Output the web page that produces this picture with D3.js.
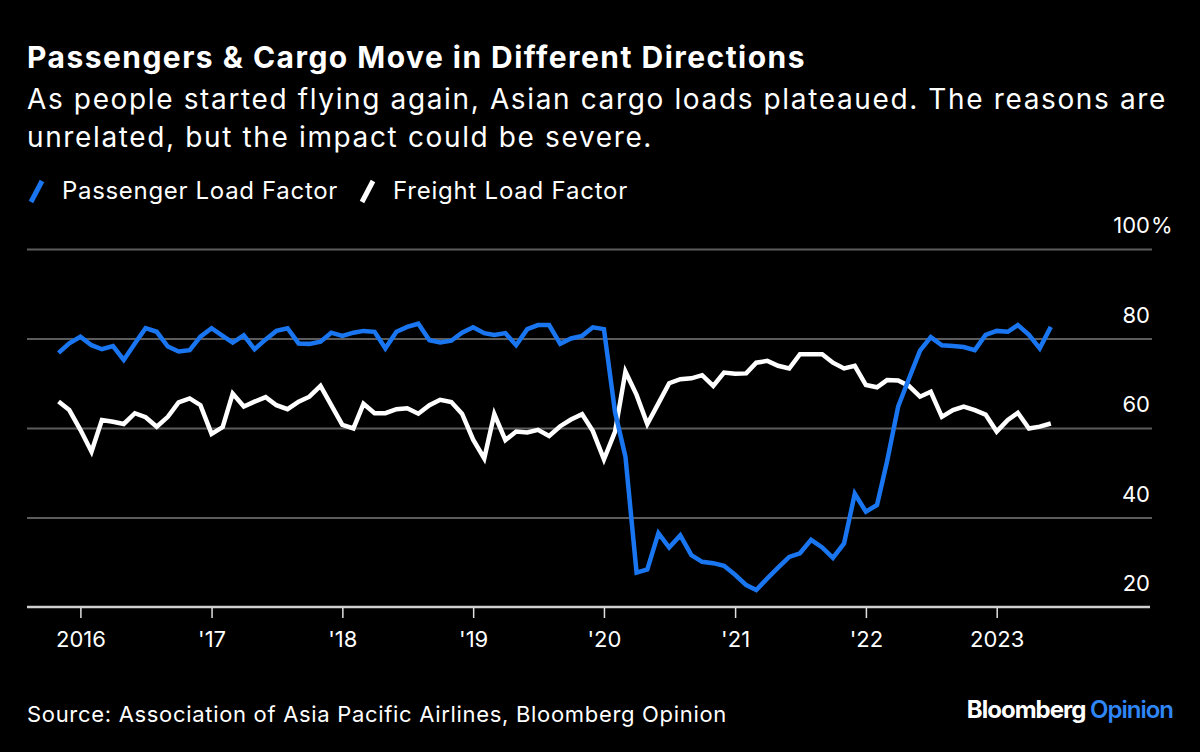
<!DOCTYPE html>
<html>
<head>
<meta charset="utf-8">
<script src="https://cdn.jsdelivr.net/npm/d3@7"></script>
<style>
  html, body { margin: 0; padding: 0; background: #000; }
  svg { display: block; }
  text { font-family: Inter, "Liberation Sans", Arial, sans-serif; fill: #fff; }
</style>
</head>
<body>
<svg id="chart" width="1200" height="752"></svg>
<script>
// ---- data (monthly, Nov 2015 – Jun 2023) ----
const firstMonth = "2015-11";
const passengerLoad = [
  76.8, 78.9,
  80.4, 78.5, 77.6, 78.3, 75.2, 78.9, 82.3, 81.5, 78.2, 77.1, 77.4, 80.4,
  82.3, 80.6, 79.1, 80.7, 77.6, 79.8, 81.7, 82.3, 78.9, 78.8, 79.3, 81.3,
  80.6, 81.3, 81.7, 81.5, 77.8, 81.5, 82.6, 83.3, 79.6, 79.1, 79.5, 81.3,
  82.5, 81.2, 80.8, 81.2, 78.5, 82.1, 83.0, 83.0, 78.8, 80.0, 80.6, 82.5,
  82.1, 63.5, 53.6, 27.7, 28.4, 36.5, 33.3, 36.0, 31.6, 30.1, 29.8, 29.2,
  27.2, 24.9, 23.8, 26.4, 28.8, 31.2, 32.0, 35.0, 33.3, 31.0, 34.2, 45.3,
  41.3, 42.8, 52.5, 64.8, 71.0, 77.3, 80.3, 78.5, 78.3, 78.1, 77.4, 80.8,
  81.7, 81.5, 83.0, 80.8, 77.8, 82.6
];
const freightLoad = [
  65.9, 64.0,
  59.6, 54.7, 61.8, 61.4, 60.9, 63.3, 62.4, 60.3, 62.5, 65.7, 66.6, 65.1,
  58.7, 60.2, 67.7, 64.8, 65.9, 66.9, 65.1, 64.2, 65.9, 67.0, 69.4, 65.1,
  60.7, 59.9, 65.4, 63.3, 63.3, 64.2, 64.4, 63.2, 65.1, 66.3, 65.8, 63.2,
  57.4, 53.2, 63.1, 57.3, 59.2, 59.0, 59.6, 58.2, 60.4, 61.9, 63.1, 59.3,
  53.0, 59.2, 72.6, 67.4, 60.9, 65.5, 70.0, 70.9, 71.1, 71.8, 69.4, 72.4,
  72.1, 72.2, 74.6, 75.0, 73.9, 73.3, 76.5, 76.5, 76.5, 74.6, 73.3, 73.9,
  69.6, 69.1, 70.7, 70.6, 69.4, 67.0, 68.1, 62.5, 64.0, 64.8, 64.0, 63.0,
  59.2, 61.8, 63.4, 59.9, 60.3, 61.0
];
const seriesNames = ["Passenger Load Factor", "Freight Load Factor"];
const seriesColors = ["#1a76f0", "#ffffff"];
const xTickYears = [2016, 2017, 2018, 2019, 2020, 2021, 2022, 2023];
const xTickLabels = ["2016", "'17", "'18", "'19", "'20", "'21", "'22", "2023"];
const yTicks = [20, 40, 60, 80, 100];
const yGrid = [40, 60, 80, 100];

const parseMonth = d3.timeParse("%Y-%m");
const start = parseMonth(firstMonth);
const months = passengerLoad.map((_, i) => d3.timeMonth.offset(start, i));

const svg = d3.select("#chart");

// stretch text horizontally (via letter-spacing) to a target width
function fit(sel, target) {
  const w = sel.node().getComputedTextLength();
  const n = sel.text().length;
  const ls = (target - w) / n;
  sel.style("letter-spacing", ls + "px");
  return ls;
}

// ---- titles ----
fit(svg.append("text").attr("x", 27).attr("y", 68)
  .style("font-size", "30px").style("font-weight", "bold")
  .text("Passengers & Cargo Move in Different Directions"), 779);
const subLS = fit(svg.append("text").attr("x", 27).attr("y", 109)
  .style("font-size", "28px")
  .text("As people started flying again, Asian cargo loads plateaued. The reasons are"), 1140);
svg.append("text").attr("x", 27).attr("y", 147)
  .style("font-size", "28px").style("letter-spacing", subLS + "px")
  .text("unrelated, but the impact could be severe.");

// ---- legend ----
const legendX = [27, 358];
const legendW = [276, 235];
seriesNames.forEach((name, i) => {
  const g = svg.append("g").attr("transform", `translate(${legendX[i]},0)`);
  g.append("line").attr("x1", 4).attr("y1", 202).attr("x2", 15).attr("y2", 181)
    .attr("stroke", seriesColors[i]).attr("stroke-width", 5);
  fit(g.append("text").attr("x", 35).attr("y", 199).style("font-size", "24px").text(name), legendW[i]);
});

// ---- scales ----
const x = d3.scaleTime()
  .domain([new Date(2016, 0, 1), new Date(2023, 0, 1)])
  .range([80.4, 996.7]);
const y = d3.scaleLinear().domain([20, 100]).range([607, 249]);
const plotLeft = 27, plotRight = 1152;

// gridlines
const grid = svg.append("g").attr("transform", `translate(${plotRight},0)`)
  .call(d3.axisLeft(y).tickValues(yGrid).tickSize(plotRight - plotLeft).tickFormat(""));
grid.select(".domain").remove();
grid.selectAll("text").remove();
grid.selectAll("line").attr("stroke", "#5c5c5c").attr("stroke-width", 2);

// y labels
svg.append("g").selectAll("text").data(yTicks).join("text")
  .attr("x", 1150).attr("y", d => y(d) - 16)
  .attr("text-anchor", "end")
  .style("font-size", "22px")
  .text(d => d);
svg.append("text").attr("x", 1151).attr("y", y(100) - 16)
  .style("font-size", "22px").text("%");

// x axis
svg.append("line").attr("x1", plotLeft).attr("x2", 1150)
  .attr("y1", y(20)).attr("y2", y(20))
  .attr("stroke", "#cfcfcf").attr("stroke-width", 2.5);
const xAxis = svg.append("g").attr("transform", `translate(0,${y(20) + 1})`)
  .call(d3.axisBottom(x)
    .tickValues(xTickYears.map(yr => new Date(yr, 0, 1)))
    .tickSize(10).tickPadding(13)
    .tickFormat((d, i) => xTickLabels[i]));
xAxis.select(".domain").remove();
xAxis.selectAll("line").attr("stroke", "#e0e0e0").attr("stroke-width", 1.5);
xAxis.selectAll("text").attr("fill", "#fff")
  .style("font-size", "22px").style("font-family", "Inter, Liberation Sans, Arial, sans-serif");

// ---- lines ----
const line = d3.line().x((d, i) => x(months[i])).y(d => y(d)).curve(d3.curveLinear);
[freightLoad, passengerLoad].forEach((vals, k) => {
  svg.append("path").datum(vals)
    .attr("d", line)
    .attr("fill", "none")
    .attr("stroke", k === 0 ? seriesColors[1] : seriesColors[0])
    .attr("stroke-width", 4.5)
    .attr("stroke-linejoin", "miter")
    .attr("stroke-linecap", "butt");
});

// ---- footer ----
fit(svg.append("text").attr("x", 27).attr("y", 722)
  .style("font-size", "22px")
  .text("Source: Association of Asia Pacific Airlines, Bloomberg Opinion"), 700);
const brand = svg.append("text").attr("x", 1173).attr("y", 718)
  .attr("text-anchor", "end")
  .style("font-size", "24px").style("font-weight", "bold").style("letter-spacing", "-1px");
brand.append("tspan").text("Bloomberg ");
brand.append("tspan").attr("fill", "#2f86f6").style("font-weight", "600").text("Opinion");
</script>
</body>
</html>
